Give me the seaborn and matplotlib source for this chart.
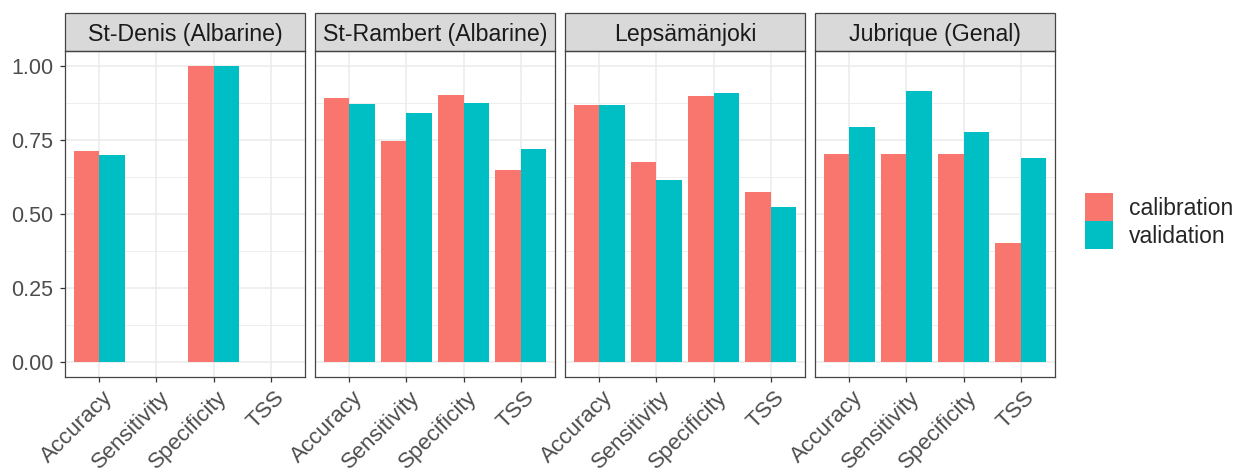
import matplotlib
matplotlib.use("Agg")
import matplotlib.pyplot as plt
import matplotlib.transforms as mtrans
import numpy as np
import pandas as pd
import seaborn as sns
from matplotlib.patches import Patch, Rectangle

# values
sites = ["St-Denis (Albarine)", "St-Rambert (Albarine)", "Lepsämänjoki", "Jubrique (Genal)"]
metrics = ["Accuracy", "Sensitivity", "Specificity", "TSS"]
sets = ["calibration", "validation"]

calibration = [
    [0.713, np.nan, 1.000, np.nan],
    [0.891, 0.744, 0.902, 0.647],
    [0.867, 0.675, 0.898, 0.574],
    [0.701, 0.700, 0.701, 0.402],
]
validation = [
    [0.699, np.nan, 1.000, np.nan],
    [0.870, 0.841, 0.874, 0.717],
    [0.867, 0.614, 0.906, 0.521],
    [0.793, 0.915, 0.774, 0.688],
]

colors = {"calibration": "#F8766D", "validation": "#00BFC4"}

rows = []
for i, site in enumerate(sites):
    for j, m in enumerate(metrics):
        rows.append((site, m, "calibration", calibration[i][j]))
        rows.append((site, m, "validation", validation[i][j]))
df = pd.DataFrame(rows, columns=["site", "metric", "set", "value"])

sns.set_style("white")
plt.rcParams["font.family"] = ["Liberation Sans", "DejaVu Sans"]

W, H = 1244, 468
fig = plt.figure(figsize=(W / 100, H / 100), dpi=100)

panel_left = [65, 315, 565, 815]
panel_w = 240
panel_top, panel_bot = 50.7, 376.7
strip_h = (panel_top - 13.3) / (panel_bot - panel_top)
border = "#444444"

shift = mtrans.ScaledTranslation(3 / 100, 0, fig.dpi_scale_trans)

for k, site in enumerate(sites):
    ax = fig.add_axes([panel_left[k] / W, 1 - panel_bot / H,
                       panel_w / W, (panel_bot - panel_top) / H])
    sub = df[df["site"] == site]
    sns.barplot(data=sub, x="metric", y="value", hue="set", order=metrics,
                hue_order=sets, palette=colors, width=0.9, gap=0,
                saturation=1, linewidth=0, legend=False, ax=ax, errorbar=None)
    ax.set_xlim(-0.6, 3.6)
    ax.set_ylim(-0.05, 1.05)
    ax.set_yticks([0, 0.25, 0.5, 0.75, 1.0])
    ax.set_yticks([0.125, 0.375, 0.625, 0.875], minor=True)
    ax.set_axisbelow(True)
    ax.grid(which="major", color="#EBEBEB", lw=1.1)
    ax.grid(which="minor", axis="y", color="#EBEBEB", lw=0.6)
    ax.set_xlabel("")
    ax.set_ylabel("")
    for s in ax.spines.values():
        s.set_color(border)
        s.set_linewidth(0.9)
    ax.tick_params(axis="both", which="major", length=3.6, width=0.9,
                   color="#333333", labelcolor="#4D4D4D",
                   direction="out", bottom=True, left=True, pad=4)
    ax.tick_params(axis="y", which="major", pad=5)
    ax.tick_params(axis="y", which="minor", length=0)
    if k == 0:
        ax.set_yticklabels(["0.00", "0.25", "0.50", "0.75", "1.00"], fontsize=15.5)
    else:
        ax.tick_params(axis="y", left=False, labelleft=False)
    ax.set_xticks(range(len(metrics)))
    ax.set_xticklabels(metrics, rotation=45, ha="right", va="top",
                       rotation_mode="anchor", fontsize=16)
    for lab in ax.get_xticklabels():
        lab.set_transform(lab.get_transform() + shift)

    ax.add_patch(Rectangle((0, 1), 1, strip_h, transform=ax.transAxes,
                           facecolor="#D9D9D9", edgecolor=border, lw=0.9,
                           clip_on=False))
    ax.text(0.5, 1 + strip_h / 2, site, transform=ax.transAxes,
            ha="center", va="center_baseline", fontsize=16.7, color="#1A1A1A")

handles = [Patch(facecolor=colors[s], edgecolor="none", label=s) for s in sets]
fig.legend(handles=handles, loc="center left",
           bbox_to_anchor=(1085 / W, 1 - 221 / H), frameon=False,
           fontsize=16.5, handlelength=1.22, handleheight=1.5,
           labelspacing=0.0, handletextpad=0.7, borderpad=0, borderaxespad=0)

fig.savefig("out.png", dpi=100)
